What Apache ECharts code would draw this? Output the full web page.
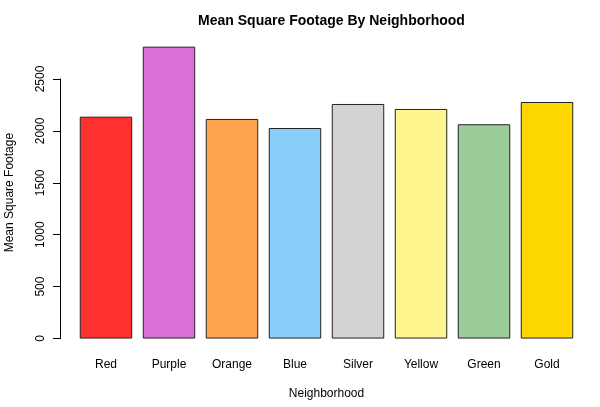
<!DOCTYPE html>
<html>
<head>
<meta charset="utf-8">
<script src="https://cdn.jsdelivr.net/npm/echarts@6/dist/echarts.min.js"></script>
<style>
  html, body { margin: 0; padding: 0; background: #fff; }
  #chart { width: 600px; height: 407px; }
</style>
</head>
<body>
<div id="chart"></div>
<script>
// data
var neighborhoods = ['Red', 'Purple', 'Orange', 'Blue', 'Silver', 'Yellow', 'Green', 'Gold'];
var meanSqft = [2133, 2806, 2111, 2024, 2255, 2207, 2060, 2274];
var barColors = ['#FF3030', '#DA70D6', '#FFA54F', '#87CEFA', '#D3D3D3', '#FFF68F', '#9BCD9B', '#FFD700'];
var yTicks = [0, 500, 1000, 1500, 2000, 2500];

var font = 'Liberation Sans, Arial, Helvetica, sans-serif';
var chart = echarts.init(document.getElementById('chart'));

chart.setOption({
  animation: false,
  textStyle: { fontFamily: font },
  title: {
    text: 'Mean Square Footage By Neighborhood',
    left: 326.5,
    top: 9,
    textAlign: 'center',
    textStyle: { fontSize: 14, fontWeight: 'bold', color: '#000', fontFamily: font }
  },
  grid: [
    // plot region (like R's, with the 4% extension)
    { left: 74.5, right: 21.5, top: 35, bottom: 56.8, containLabel: false, outerBoundsMode: 'none' },
    // grid only for the y axis drawn from 0 to 2500
    { left: 60, width: 1, top: 79, bottom: 68.5, containLabel: false, outerBoundsMode: 'none' }
  ],
  xAxis: [{
    gridIndex: 0,
    type: 'category',
    data: neighborhoods,
    axisLine: { show: false },
    axisTick: { show: false },
    axisLabel: { margin: 8, fontSize: 12, color: '#000' },
    name: 'Neighborhood',
    nameLocation: 'middle',
    nameGap: 37,
    nameTextStyle: { fontSize: 12, color: '#000' }
  }, {
    gridIndex: 1,
    type: 'value',
    show: false
  }],
  yAxis: [{
    gridIndex: 0,
    type: 'value',
    min: -112,
    max: 2918,
    axisLine: { show: false },
    axisTick: { show: false },
    axisLabel: { show: false },
    splitLine: { show: false },
    name: 'Mean Square Footage',
    nameLocation: 'middle',
    nameRotate: 90,
    nameGap: 59,
    nameTextStyle: { fontSize: 12, color: '#000' }
  }, {
    gridIndex: 1,
    type: 'value',
    min: yTicks[0],
    max: yTicks[yTicks.length - 1],
    interval: 500,
    axisLine: { show: true, lineStyle: { color: '#000', width: 1 } },
    axisTick: { show: true, length: 7, lineStyle: { color: '#000' } },
    axisLabel: {
      rotate: 90, margin: 13, fontSize: 12, color: '#000',
      formatter: function (v) { return String(v); }
    },
    splitLine: { show: false }
  }],
  series: [{
    type: 'bar',
    xAxisIndex: 0,
    yAxisIndex: 0,
    barWidth: '83.33%',
    data: meanSqft.map(function (v, i) {
      return { value: v, itemStyle: { color: barColors[i] } };
    }),
    itemStyle: { borderColor: '#222', borderWidth: 1 }
  }]
});
</script>
</body>
</html>
